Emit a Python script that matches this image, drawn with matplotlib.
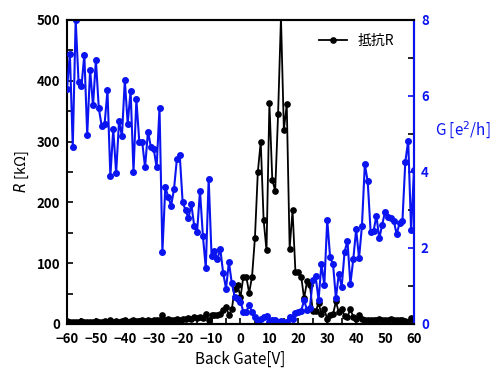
import matplotlib
matplotlib.use('Agg')
import matplotlib.pyplot as plt
import numpy as np

plt.rcParams['font.family'] = ['Noto Sans CJK JP', 'DejaVu Sans']
plt.rcParams['axes.unicode_minus'] = True

# ゲート電圧 (1 V 刻み)
gate = np.arange(-60, 61)

# 抵抗 R [kΩ]
R = [5, 3, 4, 3, 4, 5, 3, 4, 4, 3, 5, 4, 4, 5, 4, 6, 4, 5, 4, 5,
     6, 4, 5, 6, 5, 5, 6, 5, 6, 5, 6, 6, 7,
     14, 7, 8, 7, 6, 8, 7, 9, 9, 10, 8, 11, 10, 12, 10, 17, 6, 14, 14, 14,
     17, 23, 28, 15, 24, 58, 64, 44, 78, 78, 51, 78, 142, 250, 300, 171,
     121, 364, 237, 219, 345, 505, 319, 361, 124, 187, 86, 85, 78, 42, 70,
     64, 21, 21, 34, 17, 24, 8, 15, 16, 37, 19, 25, 13, 12, 24, 12, 9, 14,
     8, 6, 7, 6, 7, 6, 8, 7, 6, 7, 8, 7, 6, 7, 6, 5, 4, 10, 7]

# コンダクタンス G [e^2/h]
G = [6.18, 7.11, 4.66, 8.0, 6.38, 6.25, 7.08, 4.98, 6.69, 5.75, 6.94, 5.68,
     5.21, 5.25, 6.15, 3.89, 5.13, 3.97, 5.34, 4.94, 6.41, 5.27, 6.14, 4.01,
     5.91, 4.80, 4.80, 4.12, 5.06, 4.67, 4.61, 4.12, 5.69, 1.90, 3.60, 3.35,
     3.11, 3.54, 4.34, 4.44, 3.20, 3.00, 2.78, 3.15, 2.58, 2.43, 3.50, 2.32,
     1.47, 3.82, 1.78, 1.93, 1.70, 1.98, 1.35, 0.93, 1.63, 1.07, 0.72, 0.66,
     0.59, 0.32, 0.32, 0.50, 0.32, 0.19, 0.08, 0.12, 0.19, 0.20, 0.06, 0.10,
     0.10, 0.06, 0.07, 0.05, 0.05, 0.19, 0.14, 0.30, 0.31, 0.35, 0.62, 0.37,
     0.42, 1.17, 1.25, 0.63, 1.58, 1.03, 2.74, 1.75, 1.58, 0.68, 1.32, 0.98,
     1.90, 2.19, 1.05, 1.70, 2.49, 1.73, 2.58, 4.20, 3.75, 2.43, 2.44, 2.85,
     2.25, 2.61, 2.96, 2.82, 2.78, 2.72, 2.36, 2.65, 2.70, 4.27, 4.82, 2.47,
     4.04]

blue = '#0a14f0'

fig = plt.figure(figsize=(4.98, 3.68), dpi=100)
ax = fig.add_axes([0.1345, 0.1196, 0.6968, 0.8261])
ax2 = ax.twinx()

ax.plot(gate, R, '-o', color='black', lw=1.3, ms=3.8, label='抵抗R')
ax2.plot(gate, G, '-o', color=blue, lw=1.5, ms=4.0)

ax.set_xlim(-60, 60)
ax.set_ylim(0, 500)
ax2.set_ylim(0, 8)

ax.set_xticks(np.arange(-60, 61, 10))
ax.set_xticks(np.arange(-60, 61, 5), minor=True)
ax.set_yticks(np.arange(0, 501, 100))
ax.set_yticks(np.arange(0, 501, 50), minor=True)
ax2.set_yticks(np.arange(0, 9, 2))
ax2.set_yticks(np.arange(0, 9, 1), minor=True)

for a in (ax, ax2):
    a.tick_params(which='both', direction='in', length=4, width=1.2)
    for s in a.spines.values():
        s.set_linewidth(1.5)
ax.tick_params(axis='x', labelsize=9.5, pad=6)
ax.tick_params(axis='y', labelsize=9.5, pad=5)
ax2.tick_params(axis='y', colors=blue, labelsize=9.5, pad=5)
ax2.spines['right'].set_color(blue)
ax2.spines['left'].set_visible(False)

for lab in ax.get_xticklabels() + ax.get_yticklabels() + ax2.get_yticklabels():
    lab.set_fontweight('bold')

ax.set_xlabel('Back Gate[V]', fontsize=11, labelpad=3)
ax.set_ylabel('$R$ [kΩ]', fontsize=10.5, labelpad=4)
ax2.set_ylabel('G [e$^2$/h]', fontsize=11, color=blue, rotation=0,
               ha='center', va='center')
ax2.yaxis.set_label_coords(1.14, 0.635)

h, l = ax.get_legend_handles_labels()
ax2.legend(h, l, loc='upper right', frameon=False, fontsize=10,
           handlelength=2.0, bbox_to_anchor=(0.98, 0.995))

fig.savefig('out.png', dpi=100)
